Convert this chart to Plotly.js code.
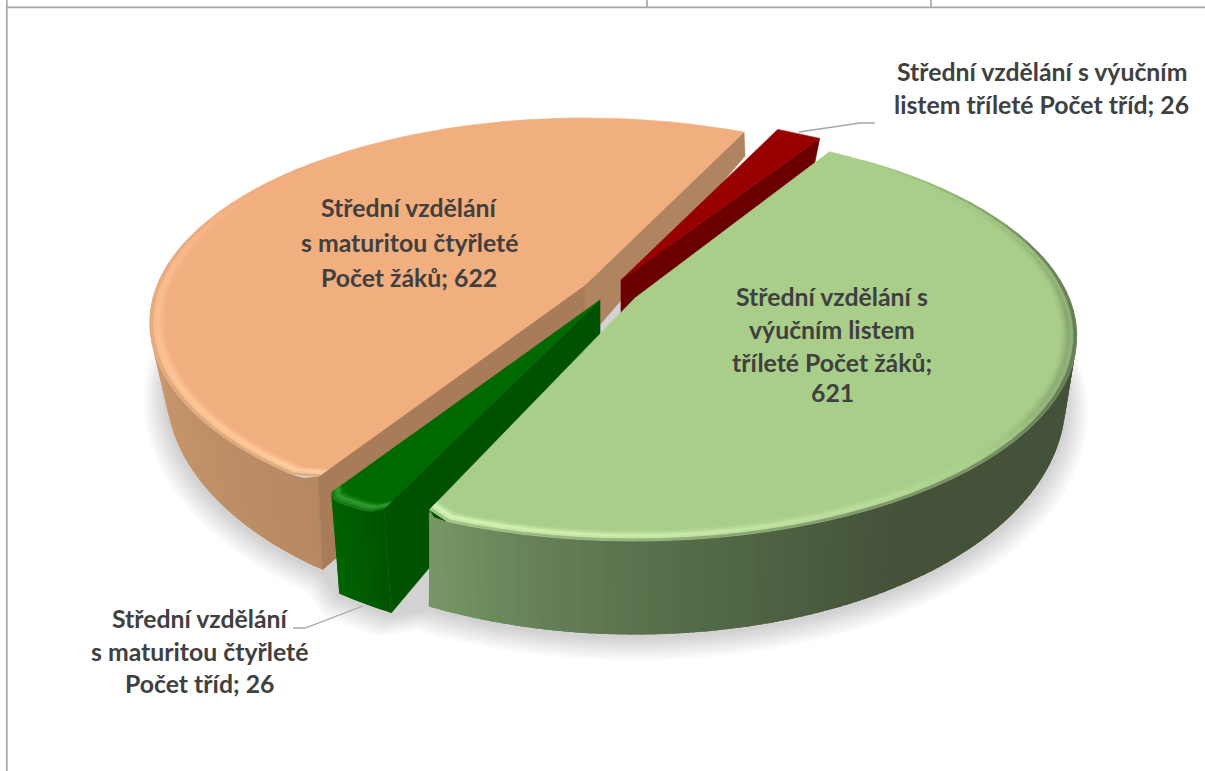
<!DOCTYPE html>
<html><head><meta charset="utf-8">
<script src="https://cdn.plot.ly/plotly-3.0.1.min.js"></script>
<style>html,body{margin:0;padding:0;background:#fff}#c{width:1205px;height:771px}</style>
</head><body><div id="c"></div>
<script>
// ---- data ----
const categories = ["Střední vzdělání s maturitou čtyřleté – Počet žáků",
  "Střední vzdělání s výučním listem tříleté – Počet tříd",
  "Střední vzdělání s výučním listem tříleté – Počet žáků",
  "Střední vzdělání s maturitou čtyřleté – Počet tříd"];
const values = [622, 26, 621, 26];
const labelOrange = ["Střední vzdělání", "s maturitou čtyřleté", "Počet žáků; 622"];
const labelRed = ["Střední vzdělání s výučním", "listem tříleté Počet tříd; 26"];
const labelGreen = ["Střední vzdělání s", "výučním listem", "tříleté Počet žáků;", "621"];
const labelDarkGreen = ["Střední vzdělání", "s maturitou čtyřleté", "Počet tříd; 26"];

// ---- 3D-pie projection ----
const firstAngle = 212.6 - 360;
const P = 0.185, A = 432, B = 198;
const total = values.reduce((s, v) => s + v, 0);
let acc = firstAngle;
const spans = values.map(v => { const a = acc; acc += v / total * 360; return [a, acc]; });
spans[0] = spans[0].map(d => d + 360);   // orange is drawn on 212..385
const looks = [
 {apex:[585,285], R:1, ax:0.99, bot:[5,2], rot:0.2, top:'#F1AE7F', cuts:['#A87C59','#B08460'], cutSides:[0,1],
  edge:d => Math.min(1, Math.max(0, (310 - d) / 30)),
  wall:[[212,'#B68962'],[240,'#C39269'],[270,'#D29B72'],[300,'#DDA67C'],[400,'#DDA67C']],
  rim:[[212,'#FFCFA3'],[225,'#FFC899'],[270,'#F9BE90'],[290,'#F5B486'],[310,'#F1AE7F'],[400,'#F1AE7F']]},
 {apex:[621,280], R:0.98, ax:1, bot:[0,0], rot:0, top:'#990000', cuts:['#6A0000','#6A0000'], cutSides:[1],
  edge:d => 1, wall:[[0,'#6A0000'],[400,'#6A0000']], rim:null},
 {apex:[635,298], R:1, ax:1.005, bot:[0,2], rot:-1.5, top:'#A9CE8A', cuts:['#44523A','#44523A'], cutSides:[],
  edge:d => Math.min(1, Math.max(0, (d - 38) / 40)),
  wall:[[30,'#44523A'],[150,'#44523A'],[176,'#566E49'],[190,'#657F58'],[206,'#7A9C68']],
  rim:[[30,'#A9CE8A'],[50,'#A9CE8A'],[70,'#9CBF80'],[95,'#88A870'],[120,'#8FB077'],[135,'#A9CE8A'],[155,'#BBDC9C'],[175,'#C9EBAA'],[206,'#D5F5B5']]},
 {apex:[600,300], R:1, ax:1, bot:[8,10], rot:0, top:'#006A00', cuts:['#005200','#005200'], cutSides:[0],
  edge:d => 1, wall:[[204,'#004F00'],[208,'#005A00'],[213,'#006400']],
  rim:[[204,'#2F9A2F'],[213,'#2F9A2F']]}
];

function pt(l, r, deg, depth) {
  const t = deg * Math.PI / 180, u = r * Math.sin(t), v = r * Math.cos(t);
  const w = 1 + P * v;
  const x = A * l.ax * u / w, y = -B * v / w;
  if (!depth) return [l.apex[0] + x, l.apex[1] + y];
  return [l.apex[0] + x * 0.975 + l.bot[0], l.apex[1] + y + (55 - 36.6 * v) + l.bot[1]];
}
const hex = h => [1,3,5].map(i => parseInt(h.substr(i,2),16));
function mix(c1, c2, f) {
  const a = hex(c1), b = hex(c2);
  return 'rgb(' + a.map((x,i) => Math.round(x + (b[i]-x)*f)).join(',') + ')';
}
const toHex = s => '#' + s.match(/\d+/g).map(n => (+n).toString(16).padStart(2,'0')).join('');
function ramp(stops, d) {
  if (d <= stops[0][0]) return stops[0][1];
  for (let i = 1; i < stops.length; i++) if (d <= stops[i][0]) {
    const f = (d - stops[i-1][0]) / (stops[i][0] - stops[i-1][0]);
    return toHex(mix(stops[i-1][1], stops[i][1], f));
  }
  return stops[stops.length-1][1];
}
const traces = [];
function poly(pts, color, seam) {
  traces.push({type:'scatter', mode:'lines', x:pts.map(p=>p[0]).concat([pts[0][0]]), y:pts.map(p=>p[1]).concat([pts[0][1]]),
    fill:'toself', fillcolor:color, line:{color: seam === false ? 'rgba(0,0,0,0)' : color, width: seam === false ? 0 : 0.6},
    hoverinfo:'skip', showlegend:false});
}
// only the corners on the near side of the pie are rounded, the far ones are sharp
function arcR(l, d, a, b) {
  const dd = Math.min(d - a, b - d), delta = Math.min(2.5, (b - a) / 3);
  let r = l.R;
  if (dd < delta && Math.cos(d * Math.PI / 180) < 0) { const q = 1 - dd / delta; r -= 0.024 * (1 - Math.sqrt(Math.max(0, 1 - q*q))); }
  return r;
}
function range(a, b, step) {
  const n = Math.max(2, Math.ceil((b - a) / step)), out = [];
  for (let i = 0; i <= n; i++) out.push(a + (b - a) * i / n);
  return out;
}
const spanOf = i => spans[i].map(d => d + looks[i].rot);

// soft shadow under the near side of the pie, one outline across the slices
for (let k = 9; k >= 1; k--) {
  const pts = [];
  [[2, 85, 999], [3, -999, 999], [0, -999, 300]].forEach(([i, lo, hi]) => {
    const [a, b] = spanOf(i);
    range(Math.max(a, lo), Math.min(b, hi), 3).forEach(d => {
      const p = pt(looks[i], 1 + k * 0.0055, d, true);
      pts.push([p[0], p[1] + 2 + k * 0.8]);
    });
  });
  poly(pts, 'rgba(0,0,0,0.02)', false);
}

function drawSlice(i) {
  const [a, b] = spanOf(i), l = looks[i];
  const ang = range(a, b, b - a < 20 ? 1.2 : 3);
  const fine = range(a, b, 1.2);
  // outer wall: each strip overlaps the next so that no seams show
  for (let j = 0; j < fine.length - 1; j++) {
    const d0 = fine[j], d1 = fine[j+1], dm = (d0 + d1) / 2;
    if (Math.cos(dm * Math.PI / 180) > 0.3) continue;
    const d2 = Math.min(b, d1 + 1);
    poly([pt(l, arcR(l,d0,a,b), d0), pt(l, arcR(l,d1,a,b), d1), pt(l, arcR(l,d2,a,b), d2), pt(l, l.R, d2, true), pt(l, l.R, d1, true), pt(l, l.R, d0, true)],
         ramp(l.wall, dm), false);
  }
  // cut faces
  const apexB = pt(l, 0, 0, true);
  apexB[0] = l.apex[0];
  if (l.cutSides.includes(0)) poly([l.apex, pt(l, arcR(l,a+0.001,a,b), a), pt(l, l.R, a, true), apexB], l.cuts[0]);
  if (l.cutSides.includes(1)) poly([l.apex, pt(l, arcR(l,b-0.001,a,b), b), pt(l, l.R, b, true), apexB], l.cuts[1]);
  // top face
  poly([l.apex].concat(ang.map(d => pt(l, arcR(l,d,a,b), d))), l.top);
  // bevelled rim
  if (l.rim) {
    const bands = [[0.966,0.972,0.2],[0.972,0.978,0.55],[0.978,0.986,1],[0.986,0.993,0.8],[0.993,1,-1]];
    for (let j = 0; j < ang.length - 1; j++) {
      const d0 = ang[j], d1 = ang[j+1], dm = (d0 + d1) / 2;
      const c = ramp(l.rim, dm);
      const e = l.edge(dm);
      if (e === 0) continue;
      const w = ramp(l.wall, dm);
      bands.forEach(bd => {
        const r0 = arcR(l,d0,a,b), r1 = arcR(l,d1,a,b);
        const col = bd[2] < 0 ? mix(c, w, 0.5 * e) : mix(l.top, c, bd[2]);
        poly([pt(l, bd[0]*r0, d0), pt(l, bd[0]*r1, d1), pt(l, bd[1]*r1, d1), pt(l, bd[1]*r0, d0)], col);
      });
    }
  }
}
drawSlice(0); drawSlice(1); drawSlice(3); drawSlice(2);

// leader lines
const leader = (xs, ys) => traces.push({type:'scatter', mode:'lines', x:xs, y:ys, line:{color:'#A6A6A6', width:1.3}, hoverinfo:'skip', showlegend:false});
leader([799, 860, 875], [132, 123, 123]);
leader([293, 305, 363], [628, 628, 606]);

// texts
const annos = [];
function put(lines, xs, ys) {
  lines.forEach((t, i) => annos.push({x:xs[i], y:ys[i], xref:'x', yref:'y', text:t, showarrow:false, xanchor:'center', yanchor:'middle',
    font:{family:'Lato, "Open Sans", sans-serif', size:24.8, color:'#404040', weight:700}}));
}
put(labelRed, [1042,1041], [71,104]);
put(labelOrange, [409,409,409], [207,242,277]);
put(labelGreen, [832,832,832,832], [296,329,362,392]);
put(labelDarkGreen, [200,199,199], [618,651,683]);

// surrounding table rules
const rule = (x0,y0,x1,y1) => ({type:'line', xref:'x', yref:'y', x0, y0, x1, y1, line:{color:'#A6A6A6', width:1.7}, layer:'below'});
const shapes = [rule(6.8,0,6.8,771), rule(6,7.3,1205,7.3), rule(647,0,647,7), rule(931,0,931,7)];

Plotly.newPlot('c', traces, {
  width:1205, height:771, margin:{l:0,r:0,t:0,b:0}, paper_bgcolor:'#fff', plot_bgcolor:'#fff', showlegend:false,
  xaxis:{range:[0,1205], visible:false, fixedrange:true},
  yaxis:{range:[771,0], visible:false, fixedrange:true},
  annotations:annos, shapes:shapes, hovermode:false
}, {displayModeBar:false, staticPlot:true});
</script></body></html>
